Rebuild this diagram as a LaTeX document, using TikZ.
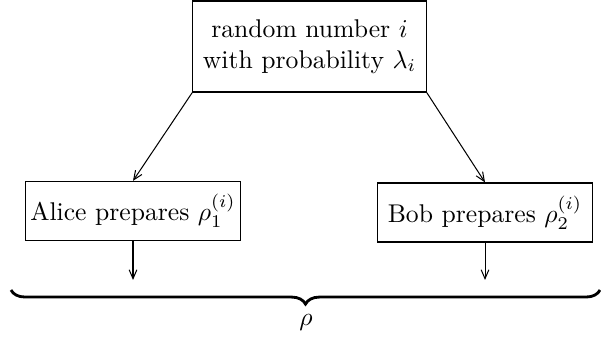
\documentclass[tikz,border=0pt]{standalone}
\usepackage{amsmath}
\usetikzlibrary{arrows.meta,decorations.pathreplacing}
\tikzset{
    choice box/.style={draw, line width=.5pt, align=center, inner sep=0pt},
    party box/.style={draw, line width=.5pt, inner sep=0pt, minimum width=84pt, minimum height=23pt},
    flow arrow/.style={thin, -{Straight Barb[length=3.5pt,width=3pt]}},
    sum brace/.style={line width=1.1pt, decorate,
        decoration={brace, mirror, amplitude=5.5pt}}
}

\begin{document}
\begin{tikzpicture}[x=.39pt,y=-.39pt]
    \useasboundingbox (0,0) rectangle (601,340);

    \node[choice box, minimum width=91pt, minimum height=35.5pt] (src) at (309.5,46.5)
        {random number $i$\\with probability $\lambda_i$};

    \node[party box] (alice) at (133,211) {Alice prepares $\rho_1^{(i)}$};
    \node[party box] (bob) at (485,212.5) {Bob prepares $\rho_2^{(i)}$};

    \draw[flow arrow] (src.south west) -- (alice.north);
    \draw[flow arrow] (src.south east) -- (bob.north);

    \coordinate (aliceout) at (133,280);
    \coordinate (bobout) at (485,280);
    \draw[flow arrow] (alice.south) -- (aliceout);
    \draw[flow arrow] (bob.south) -- (bobout);

    % joint state
    \coordinate (bl) at (11,290);
    \coordinate (br) at (600,290);
    \draw[sum brace] (bl) -- (br);
    \node (rho) at (306,322) {$\rho$};
\end{tikzpicture}
\end{document}
